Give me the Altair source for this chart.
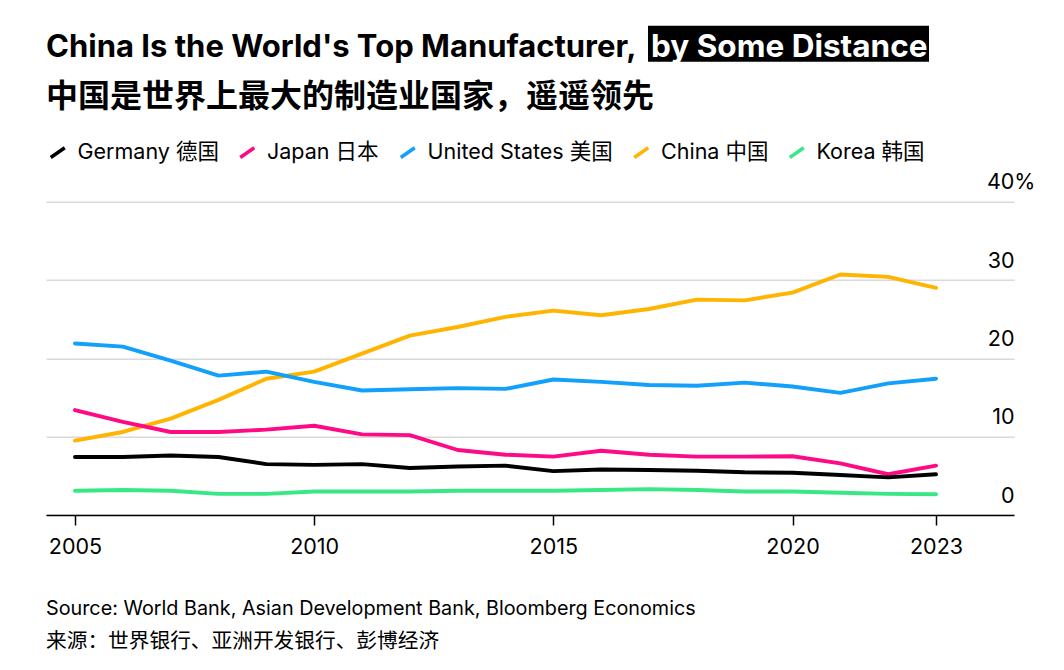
import altair as alt
import pandas as pd

# ---------------- data ----------------
years = list(range(2005, 2024))
germany = [7.4, 7.4, 7.6, 7.4, 6.5, 6.4, 6.5, 6.0, 6.2, 6.3, 5.6, 5.8, 5.75, 5.65, 5.45, 5.4, 5.1, 4.8, 5.2]
japan = [13.4, 11.9, 10.6, 10.6, 10.9, 11.4, 10.3, 10.2, 8.3, 7.7, 7.45, 8.2, 7.7, 7.45, 7.45, 7.5, 6.6, 5.2, 6.3]
united_states = [21.9, 21.5, 19.7, 17.8, 18.3, 17.0, 15.9, 16.05, 16.2, 16.1, 17.3, 17.0, 16.6, 16.5, 16.9, 16.4, 15.6, 16.8, 17.4]
china = [9.5, 10.6, 12.3, 14.7, 17.4, 18.3, 20.6, 22.9, 24.0, 25.3, 26.1, 25.5, 26.3, 27.5, 27.4, 28.4, 30.7, 30.4, 29.0]
korea = [3.1, 3.2, 3.1, 2.7, 2.7, 3.0, 3.0, 3.0, 3.1, 3.1, 3.1, 3.2, 3.3, 3.2, 3.0, 3.0, 2.85, 2.7, 2.65]

series_names = ["Germany 德国", "Japan 日本", "United States 美国", "China 中国", "Korea 韩国"]
series_colors = ["#000000", "#ff0a85", "#12a0fa", "#ffb400", "#38e887"]
x_ticks = [2005, 2010, 2015, 2020, 2023]
y_ticks = [0, 10, 20, 30, 40]

title_text = "China Is the World's Top Manufacturer,"
highlight_text = "by Some Distance"
subtitle_text = "中国是世界上最大的制造业国家，遥遥领先"
source_en = "Source: World Bank, Asian Development Bank, Bloomberg Economics"
source_zh = "来源：世界银行、亚洲开发银行、彭博经济"

FONT = "Inter, 'Noto Sans CJK SC', sans-serif"
CJK_FONT = "'Noto Sans CJK SC', Inter, sans-serif"

# rows in drawing order (Korea first, Germany last -> on top)
series_values = [germany, japan, united_states, china, korea]
rows = []
for name, vals in reversed(list(zip(series_names, series_values))):
    for yr, v in zip(years, vals):
        rows.append({"year": yr, "share": v, "country": name})
df = pd.DataFrame(rows)

W, H = 968, 313.3

lines = alt.Chart(df).mark_line(strokeWidth=3.9, strokeCap="round", strokeJoin="round").encode(
    x=alt.X("year:Q",
            scale=alt.Scale(domain=[2004.394, 2024.63], nice=False, zero=False),
            axis=alt.Axis(values=x_ticks, format="d", title=None, grid=False,
                          domainColor="#000000", domainWidth=1.5,
                          tickColor="#000000", tickWidth=1.5, tickSize=10,
                          labelFont=FONT, labelFontSize=21.5, labelColor="#000000",
                          labelPadding=11, labelOverlap=False, labelFlush=False)),
    y=alt.Y("share:Q",
            scale=alt.Scale(domain=[0, 40], nice=False, zero=True),
            axis=alt.Axis(orient="right", values=y_ticks, title=None, domain=False,
                          ticks=False, tickSize=0, grid=True, gridColor="#d9d9d9", gridWidth=1.5,
                          labelAlign="right", labelBaseline="alphabetic", labelOffset=-13,
                          labelPadding={"condition": {"test": "datum.value == 40", "value": 21}, "value": 0},
                          labelExpr="datum.value == 40 ? '40%' : datum.label",
                          labelFont=FONT, labelFontSize=21.5, labelColor="#000000",
                          labelOverlap=False, labelFlush=False)),
    color=alt.Color("country:N",
                    scale=alt.Scale(domain=series_names, range=series_colors),
                    sort=series_names,
                    legend=alt.Legend(orient="none", legendX=1, legendY=-60, direction="horizontal",
                                      title=None, symbolType="M-1,0.7L1,-0.7", symbolSize=196,
                                      symbolStrokeWidth=3.5, labelFont=FONT, labelFontSize=21.5,
                                      labelColor="#000000", labelOffset=9, columnPadding=13.5,
                                      padding=0, labelLimit=0)),
)

def text_layer(txt, x, y, size, weight="normal", color="#000000", font=FONT):
    return alt.Chart(pd.DataFrame({"t": [txt]})).mark_text(
        align="left", baseline="alphabetic", fontSize=size, fontWeight=weight,
        color=color, font=font
    ).encode(text="t:N", x=alt.value(x), y=alt.value(y))

title_layer = text_layer(title_text, 0, -145, 31, "bold")
hl_rect = alt.Chart(pd.DataFrame({"t": [highlight_text]})).mark_rect(color="#000000").encode(
    x=alt.value(602), x2=alt.value(883), y=alt.value(-176), y2=alt.value(-140))
hl_layer = text_layer(highlight_text, 605, -145, 31.5, "bold", "#ffffff")
sub_layer = text_layer(subtitle_text, 0, -95, 32, "bold", font=CJK_FONT)
src1 = text_layer(source_en, 0, 413, 19.8)
src2 = text_layer(source_zh, 0, 446, 20.7, font=CJK_FONT)

chart = alt.layer(lines, title_layer, hl_rect, hl_layer, sub_layer, src1, src2).properties(
    width=W, height=H,
    padding={"left": 46, "top": 201.7, "right": 50, "bottom": 155},
    autosize=alt.AutoSizeParams(type="none"),
    background="#ffffff",
).configure_view(stroke=None)

chart.save("out.html", embed_options={"renderer": "svg", "actions": False})
